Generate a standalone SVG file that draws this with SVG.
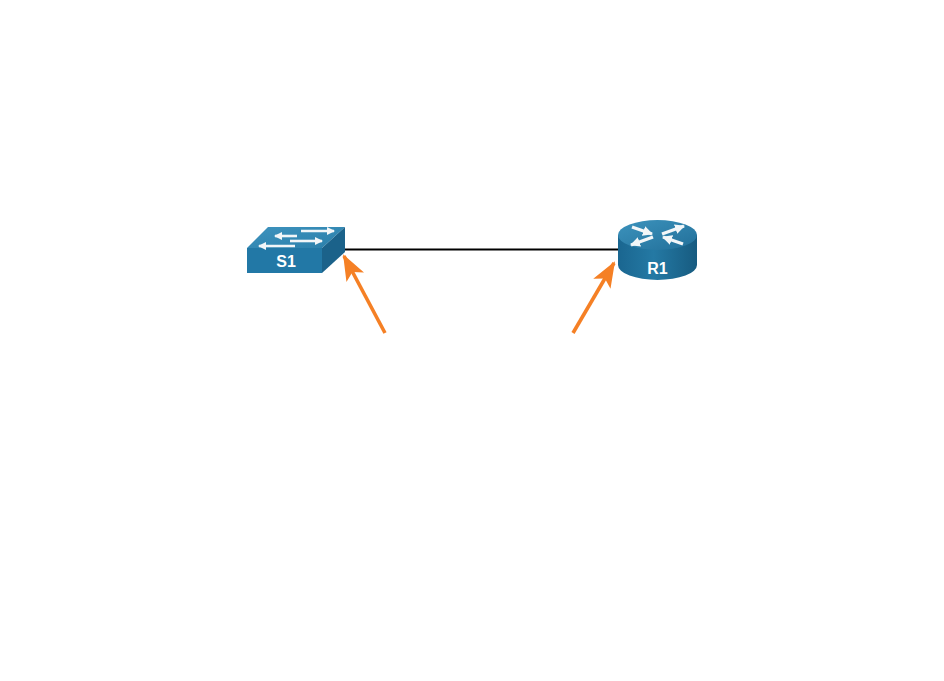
<svg xmlns="http://www.w3.org/2000/svg" width="944" height="681" viewBox="0 0 944 681">
<style>
.lbl{font-family:"Liberation Sans",Arial,sans-serif;font-weight:bold;font-size:16px;fill:#fff;text-anchor:middle}
.wl{stroke:#F2F6F8;stroke-width:2.6;fill:none}
.wr{stroke:#F2F6F8;stroke-width:3.2;fill:none}
.pt{stroke:#F58025;stroke-width:3.6;fill:none}
</style>
<defs>
<linearGradient id="rside" x1="0" x2="1" y1="0" y2="0">
<stop offset="0" stop-color="#1A6690"/>
<stop offset="0.45" stop-color="#2479A4"/>
<stop offset="1" stop-color="#175B80"/>
</linearGradient>
<linearGradient id="rtop" x1="0" x2="1" y1="0" y2="1">
<stop offset="0" stop-color="#3C93BD"/>
<stop offset="1" stop-color="#226F99"/>
</linearGradient>
<linearGradient id="stop" x1="0" x2="1" y1="0" y2="1">
<stop offset="0" stop-color="#3E93BE"/>
<stop offset="1" stop-color="#2A7FAA"/>
</linearGradient>
<marker id="ah" markerWidth="26" markerHeight="20" refX="24" refY="10" orient="auto" markerUnits="userSpaceOnUse" viewBox="0 0 26 20">
<path d="M0,0 L26,10 L0,20 L6,10 Z" fill="#F58025"/>
</marker>
<marker id="wh" markerWidth="8" markerHeight="8" refX="7" refY="4" orient="auto" markerUnits="userSpaceOnUse" viewBox="0 0 8 8">
<path d="M0,0 L8,4 L0,8 Z" fill="#F2F6F8"/>
</marker>
<marker id="wh2" markerWidth="10" markerHeight="10" refX="9" refY="5" orient="auto" markerUnits="userSpaceOnUse" viewBox="0 0 10 10">
<path d="M0,0 L10,5 L0,10 Z" fill="#F2F6F8"/>
</marker>
</defs>
<rect width="944" height="681" fill="#fff"/>
<g id="connectors">
<line x1="344" y1="249.5" x2="620" y2="249.5" stroke="#000" stroke-width="2.2"/>
</g>
<g id="S1">
<polygon points="247,248 268,227 345,227 322,248" fill="url(#stop)"/>
<polygon points="322,248 345,227 345,252 322,273" fill="#1B628A"/>
<rect x="247" y="248" width="75" height="25" fill="#2278A6"/>
<line class="wl" x1="301" y1="231" x2="334" y2="231" marker-end="url(#wh)"/>
<line class="wl" x1="297" y1="236" x2="275" y2="236" marker-end="url(#wh)"/>
<line class="wl" x1="290" y1="241" x2="322" y2="241" marker-end="url(#wh)"/>
<line class="wl" x1="295" y1="246" x2="259" y2="246" marker-end="url(#wh)"/>
<text class="lbl" x="286" y="267">S1</text>
</g>
<g id="R1">
<path d="M618,235 V265 A39.5,15 0 0 0 697,265 V235 Z" fill="url(#rside)"/>
<ellipse cx="657.5" cy="235" rx="39.5" ry="15" fill="url(#rtop)"/>
<line class="wr" x1="632" y1="227" x2="652" y2="234" marker-end="url(#wh2)"/>
<line class="wr" x1="683" y1="244" x2="663" y2="237" marker-end="url(#wh2)"/>
<line class="wr" x1="662" y1="234" x2="684" y2="226" marker-end="url(#wh2)"/>
<line class="wr" x1="653" y1="237" x2="631" y2="245" marker-end="url(#wh2)"/>
<text class="lbl" x="657.5" y="274">R1</text>
</g>
<g id="pointers">
<line class="pt" x1="385" y1="333" x2="344" y2="256" marker-end="url(#ah)"/>
<line class="pt" x1="573" y1="333" x2="614" y2="263" marker-end="url(#ah)"/>
</g>
</svg>
